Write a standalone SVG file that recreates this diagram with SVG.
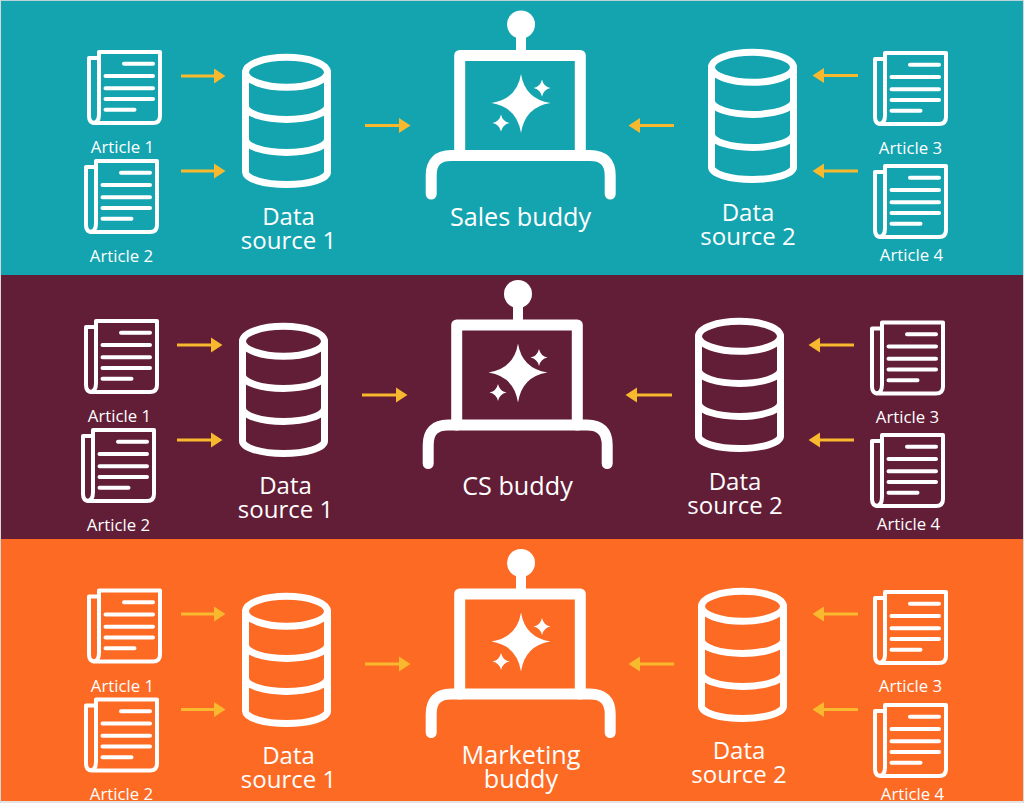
<svg xmlns="http://www.w3.org/2000/svg" xmlns:xlink="http://www.w3.org/1999/xlink" width="1024" height="803" viewBox="0 0 1024 803">
<style>
text{font-family:"Open Sans","Noto Sans","Liberation Sans",sans-serif;fill:#fff;text-anchor:middle;font-weight:500}
.a{font-size:16.800px}
.l{font-size:24px}
.b{font-size:25.200px}
.ln{fill:none;stroke:#fff;stroke-linecap:round;stroke-linejoin:round}
.c line{stroke:#f8b92e;stroke-width:3.200;marker-end:url(#h)}
</style>
<defs>
<marker id="h" markerUnits="userSpaceOnUse" markerWidth="12" markerHeight="16" refX="0" refY="8" orient="auto"><path d="M0,0.500 L11.500,8 L0,15.500 Z" fill="#f8b92e"/></marker>
<g id="article" class="ln" stroke-width="4">
<path d="M10,8 H2 V66 Q2,73 8,73 H66 Q73,73 73,66 V2 H12 V64 Q12,73 6,73"/>
<path d="M37,13.700 H66 M18.500,26 H66 M18.500,38.300 H66 M18.500,49 H66 M18.500,59.700 H47.500"/>
</g>
<g id="db" class="ln" stroke-width="7">
<ellipse cx="0" cy="72.300" rx="41" ry="15"/>
<path d="M-41,72.300 V172 A41,12.500 0 0 0 41,172 V72.300"/>
<path d="M-41,106 A41,13.400 0 0 0 41,106 M-41,139 A41,13.500 0 0 0 41,139"/>
</g>
<g id="bot">
<circle cx="521" cy="24.500" r="14" fill="#fff"/>
<path class="ln" stroke-width="10" d="M521,35 V52"/>
<path class="ln" stroke-width="11" d="M459.700,155.500 V55.500 H580.300 V155.500"/>
<path class="ln" stroke-width="11" d="M431.200,194 V175.500 Q431.200,155.500 451,155.500 H590 Q610.200,155.500 610.200,175.500 V194"/>
<path fill="#fff" d="M521,74 Q525,99 550.500,103 Q525,107 521,133 Q517,107 491.500,103 Q517,99 521,74 Z"/>
<path fill="#fff" d="M542,79.500 Q543.500,86.500 550.500,88 Q543.500,89.500 542,96.500 Q540.500,89.500 533.500,88 Q540.500,86.500 542,79.500 Z"/>
<path fill="#fff" d="M501,114.500 Q502.500,121.500 509.500,123 Q502.500,124.500 501,131.500 Q499.500,124.500 492.500,123 Q499.500,121.500 501,114.500 Z"/>
</g>
</defs>
<rect width="1024" height="275" fill="#13a4b0"/>
<rect y="275" width="1024" height="264" fill="#621d37"/>
<rect y="539" width="1024" height="264" fill="#fc6a24"/>
<path d="M0,0.500 H1024" stroke="#b9d3d6" stroke-width="1"/>
<path d="M0,802 H1024" stroke="#e4e4e4" stroke-width="2"/>
<path d="M0.500,0 V803 M1023.500,0 V803" stroke="#d8d8d8" stroke-width="1"/>

<g id="connectors" class="c">
<line x1="181" y1="76" x2="214" y2="76"/><line x1="181" y1="171" x2="214" y2="171"/><line x1="365" y1="125.500" x2="399" y2="125.500"/><line x1="674" y1="125.500" x2="640" y2="125.500"/><line x1="858" y1="75.500" x2="824" y2="75.500"/><line x1="858" y1="171" x2="824" y2="171"/>
<line x1="177" y1="345" x2="211" y2="345"/><line x1="177" y1="440" x2="211" y2="440"/><line x1="362" y1="395" x2="396" y2="395"/><line x1="672" y1="395" x2="637" y2="395"/><line x1="854" y1="345" x2="820" y2="345"/><line x1="854" y1="440" x2="820" y2="440"/>
<line x1="181" y1="614" x2="214" y2="614"/><line x1="181" y1="709.500" x2="214" y2="709.500"/><line x1="365" y1="664" x2="399" y2="664"/><line x1="674" y1="664" x2="640" y2="664"/><line x1="858" y1="614" x2="824" y2="614"/><line x1="858" y1="709.500" x2="824" y2="709.500"/>
</g>

<g id="sales-article-1"><use href="#article" x="87" y="50"/><text class="a" x="122.500" y="152.500">Article 1</text></g>
<g id="sales-article-2"><use href="#article" x="84" y="159"/><text class="a" x="121.500" y="261.500">Article 2</text></g>
<g id="sales-source-1"><use href="#db" x="286.500" y="0"/><text class="l" x="288.500" y="225">Data</text><text class="l" x="288.500" y="249">source 1</text></g>
<g id="sales-buddy"><use href="#bot"/><text class="b" x="520.500" y="225.500">Sales buddy</text></g>
<g id="sales-source-2"><use href="#db" x="752.500" y="-5"/><text class="l" x="748" y="221">Data</text><text class="l" x="748" y="244.500">source 2</text></g>
<g id="sales-article-3"><use href="#article" x="873" y="51"/><text class="a" x="910.500" y="154">Article 3</text></g>
<g id="sales-article-4"><use href="#article" x="873" y="164"/><text class="a" x="911.500" y="261">Article 4</text></g>

<g id="cs-article-1"><use href="#article" x="84" y="319"/><text class="a" x="119.500" y="422">Article 1</text></g>
<g id="cs-article-2"><use href="#article" x="81" y="428"/><text class="a" x="118.500" y="531">Article 2</text></g>
<g id="cs-source-1"><use href="#db" x="283.500" y="269"/><text class="l" x="285.500" y="494">Data</text><text class="l" x="285.500" y="518">source 1</text></g>
<g id="cs-buddy"><use href="#bot" x="-3" y="269.500"/><text class="b" x="517.500" y="495">CS buddy</text></g>
<g id="cs-source-2"><use href="#db" x="739.500" y="264"/><text class="l" x="735" y="490">Data</text><text class="l" x="735" y="514">source 2</text></g>
<g id="cs-article-3"><use href="#article" x="870" y="320.500"/><text class="a" x="907.500" y="423">Article 3</text></g>
<g id="cs-article-4"><use href="#article" x="870" y="433"/><text class="a" x="908.500" y="530">Article 4</text></g>

<g id="mkt-article-1"><use href="#article" x="87" y="588.500"/><text class="a" x="122.500" y="691.500">Article 1</text></g>
<g id="mkt-article-2"><use href="#article" x="84" y="697.500"/><text class="a" x="121.500" y="799.500">Article 2</text></g>
<g id="mkt-source-1"><use href="#db" x="286.500" y="539"/><text class="l" x="288.500" y="764">Data</text><text class="l" x="288.500" y="788">source 1</text></g>
<g id="mkt-buddy"><use href="#bot" y="538.500"/><text class="b" x="521" y="764">Marketing</text><text class="b" x="521" y="788">buddy</text></g>
<g id="mkt-source-2"><use href="#db" x="742.500" y="534"/><text class="l" x="739" y="759">Data</text><text class="l" x="739" y="783">source 2</text></g>
<g id="mkt-article-3"><use href="#article" x="873" y="590"/><text class="a" x="910.500" y="692">Article 3</text></g>
<g id="mkt-article-4"><use href="#article" x="873" y="703"/><text class="a" x="912.500" y="799.500">Article 4</text></g>
</svg>
